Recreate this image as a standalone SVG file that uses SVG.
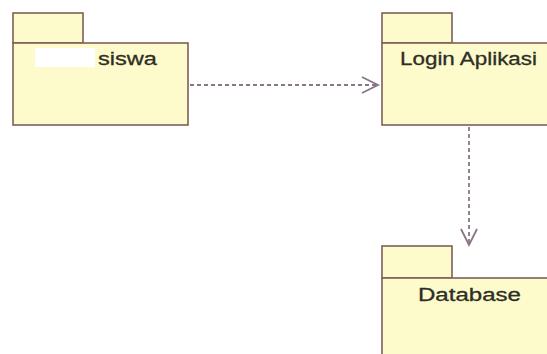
<svg xmlns="http://www.w3.org/2000/svg" width="547" height="354" viewBox="0 0 547 354">
  <style>
    .pkg { fill: #fdfbcb; stroke: #7d6058; stroke-width: 1.6; }
    .lbl { font-family: "Liberation Sans", Arial, sans-serif; font-size: 18px; fill: #2e2e26; stroke: #2e2e26; stroke-width: 0.3; }
    .dep { fill: none; stroke: #8a7488; stroke-width: 1.8; stroke-dasharray: 4 3; }
    .head { fill: none; stroke: #8a7488; stroke-width: 1.8; }
  </style>
  <rect width="547" height="354" fill="#ffffff"/>

  <g id="pkg-siswa">
    <rect class="pkg" x="13" y="13" width="70" height="30"/>
    <rect class="pkg" x="13" y="43" width="175" height="82"/>
    <rect x="35" y="48" width="60" height="19" fill="#ffffff"/>
    <text class="lbl" x="98" y="65" textLength="59" lengthAdjust="spacingAndGlyphs">siswa</text>
  </g>

  <g id="pkg-login">
    <rect class="pkg" x="382" y="13" width="70" height="30"/>
    <rect class="pkg" x="382" y="43" width="180" height="82"/>
    <text class="lbl" x="400" y="65" textLength="137" lengthAdjust="spacingAndGlyphs">Login Aplikasi</text>
  </g>

  <g id="pkg-database">
    <rect class="pkg" x="382" y="246" width="70" height="32"/>
    <rect class="pkg" x="382" y="278" width="180" height="90"/>
    <text class="lbl" x="418" y="301" textLength="103" lengthAdjust="spacingAndGlyphs">Database</text>
  </g>

  <g id="connectors">
    <line class="dep" x1="190" y1="85" x2="378" y2="85"/>
    <polyline class="head" points="362,77 378,85 362,93"/>
    <line class="dep" x1="469" y1="127" x2="469" y2="244"/>
    <polyline class="head" points="461,229 469,245 477,229"/>
  </g>
</svg>
